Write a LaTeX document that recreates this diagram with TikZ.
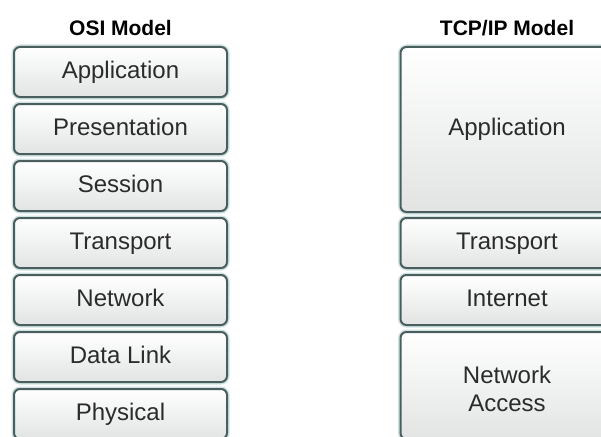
\documentclass[tikz,border=0pt]{standalone}
\usepackage{fontspec}
\setmainfont{Liberation Sans}
\usepackage{tikz}
\usetikzlibrary{positioning}
\definecolor{inkDark}{HTML}{2b2b2b}
\definecolor{slateEdge}{HTML}{4a5e5e}
\definecolor{paleTeal}{HTML}{cfe2e2}
\definecolor{boxGrey}{HTML}{e2e4e4}
\tikzset{
  layerBox/.style={draw=slateEdge,line width=2pt,rounded corners=6pt,
    top color=white,bottom color=boxGrey,
    preaction={draw=paleTeal,line width=5pt},
    minimum width=213pt,minimum height=50pt,inner sep=0pt,outer sep=0pt,
    text height=17pt,text depth=5pt,
    font=\fontsize{24}{28}\selectfont,text=inkDark,align=center},
  modelTitle/.style={font=\fontsize{21}{24}\selectfont\bfseries,text=black,
    text depth=0pt}
}

\begin{document}
\begin{tikzpicture}[x=1pt,y=-1pt]
\useasboundingbox (0,0) rectangle (601,436);
\fill[white] (0,0) rectangle (601,436);
% OSI column
\node[layerBox] (osiApp) at (120.5,72) {Application};
\node[layerBox,below=7pt of osiApp] (osiPres) {Presentation};
\node[layerBox,below=7pt of osiPres] (osiSess) {Session};
\node[layerBox,below=7pt of osiSess] (osiTrans) {Transport};
\node[layerBox,below=7pt of osiTrans] (osiNet) {Network};
\node[layerBox,below=7pt of osiNet] (osiLink) {Data Link};
\node[layerBox,below=7pt of osiLink] (osiPhys) {Physical};
\node[modelTitle] (osiTitle) at (120.5,28) {OSI Model};
% TCP/IP column
\node[layerBox,minimum height=165pt] (tcpApp) at (507,129.5) {Application};
\node[layerBox,below=6pt of tcpApp] (tcpTrans) {Transport};
\node[layerBox,below=7pt of tcpTrans] (tcpInet) {Internet};
\node[layerBox,minimum height=107pt,text height=57pt,below=7pt of tcpInet] (tcpAccess) {Network\\Access};
\node[modelTitle] (tcpTitle) at (507,28) {TCP/IP Model};
\end{tikzpicture}
\end{document}
